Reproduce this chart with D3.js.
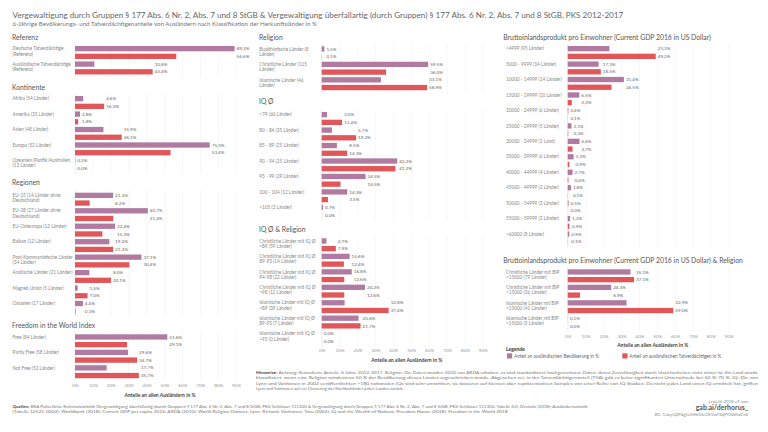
<!DOCTYPE html>
<html><head><meta charset="utf-8">
<script src="https://cdn.jsdelivr.net/npm/d3@7"></script>
<style>
body{margin:0;background:#fff}
svg{display:block}
text{font-family:Lato,"Open Sans",sans-serif}
</style>
</head><body>
<svg id="c" width="768" height="432"></svg>
<script>
// ---------------- DATA ----------------
const seriesNames = ["Anteil an ausländischen Bevölkerung in %", "Anteil an ausländischen Tatverdächtigen in %"];
const tickValues = [0,10,20,30,40,50,60,70,80,90];

const refCategories = ["Deutsche Tatverdächtige (Referenz)", "Ausländische Tatverdächtige (Referenz)"];
const refPop  = [89.2, 10.8];
const refSusp = [56.6, 43.4];

const kontCategories = ["Afrika (54 Länder)", "Amerika (35 Länder)", "Asien (48 Länder)", "Europa (52 Länder)", "Ozeanien/Pazifik/Australien (13 Länder)"];
const kontPop  = [4.6, 2.8, 15.9, 75.3, 0.2];
const kontSusp = [16.3, 1.8, 26.1, 53.4, 0.0];

const regCategories = ["EU-15 (14 Länder ohne Deutschland)", "EU-28 (27 Länder ohne Deutschland)", "EU-Osteuropa (12 Länder)", "Balkan (12 Länder)", "Post-Kommunistische Länder (34 Länder)", "Arabische Länder (21 Länder)", "Magreb Union (5 Länder)", "Ostasien (17 Länder)"];
const regPop  = [21.3, 40.7, 22.4, 19.2, 37.1, 8.0, 1.5, 4.4];
const regSusp = [8.2, 21.4, 15.3, 21.3, 30.4, 20.1, 7.0, 0.3];

const freeCategories = ["Free (84 Länder)", "Partly Free (58 Länder)", "Not Free (52 Länder)"];
const freePop  = [51.6, 29.6, 17.7];
const freeSusp = [29.1, 34.7, 35.7];

const relCategories = ["Buddhistische Länder (8 Länder)", "Christliche Länder (115 Länder)", "Islamische Länder (46 Länder)"];
const relPop  = [1.5, 59.5, 33.1];
const relSusp = [0.1, 36.0, 58.9];

const iqCategories = ["<79 (60 Länder)", "80 - 84 (35 Länder)", "85 - 89 (25 Länder)", "90 - 94 (25 Länder)", "95 - 99 (29 Länder)", "100 - 104 (12 Länder)", ">105 (3 Länder)"];
const iqPop  = [3.0, 5.7, 8.5, 42.2, 24.5, 14.3, 0.7];
const iqSusp = [11.4, 19.2, 14.3, 41.2, 10.5, 3.5, 0.0];

const iqRelCategories = ["Christliche Länder mit IQ Ø <89 (59 Länder)", "Christliche Länder mit IQ Ø 89-93 (14 Länder)", "Christliche Länder mit IQ Ø 94-98 (22 Länder)", "Christliche Länder mit IQ Ø >98 (12 Länder)", "Islamische Länder mit IQ Ø <89 (39 Länder)", "Islamische Länder mit IQ Ø 89-93 (7 Länder)", "Islamische Länder mit IQ Ø >93 (0 Länder)"];
const iqRelPop  = [2.7, 15.6, 16.8, 24.2, 12.8, 20.6, 0.0];
const iqRelSusp = [7.9, 12.4, 12.6, 12.6, 37.4, 21.7, 0.0];

const gdpCategories = ["<4999 (95 Länder)", "5000 - 9999 (34 Länder)", "10000 - 14999 (14 Länder)", "15000 - 19999 (10 Länder)", "20000 - 24999 (6 Länder)", "25000 - 29999 (5 Länder)", "30000 - 34999 (1 Land)", "35000 - 39999 (6 Länder)", "40000 - 44999 (4 Länder)", "45000 - 49999 (2 Länder)", "50000 - 54999 (3 Länder)", "55000 - 59999 (3 Länder)", ">60000 (8 Länder)"];
const gdpPop  = [23.3, 17.3, 31.4, 6.5, 0.4, 2.1, 6.6, 3.3, 2.7, 1.8, 0.5, 1.3, 0.9];
const gdpSusp = [49.2, 18.5, 24.5, 2.3, 0.1, 0.3, 2.7, 0.9, 0.4, 0.1, 0.0, 0.9, 0.1];

const gdpRelCategories = ["Christliche Länder mit BIP <15000 (79 Länder)", "Christliche Länder mit BIP >15000 (36 Länder)", "Islamische Länder mit BIP <15000 (41 Länder)", "Islamische Länder mit BIP >15000 (5 Länder)"];
const gdpRelPop  = [35.1, 24.3, 32.9, 0.1];
const gdpRelSusp = [37.1, 6.9, 59.0, 0.0];

// ---------------- TEXTS ----------------
const titleText = "Vergewaltigung durch Gruppen § 177 Abs. 6 Nr. 2, Abs. 7 und 8 StGB & Vergewaltigung überfallartig (durch Gruppen) § 177 Abs. 6 Nr. 2, Abs. 7 und 8 StGB, PKS 2012-2017";
const subtitleText = "6-Jährige Bevölkerungs- und Tatverdächtigenanteile von Ausländern nach Klassifikation der Herkunftsländer in %";
const axisTitle = "Anteile an allen Ausländern in %";
const hinweise = [
  ["Hinweise: ", "Achtung: Kumulierte Anteile, 6 Jahre 2012-2017. Religion: Die Daten wurden 2010 von ARDA erhoben, es sind standardisiert hochgerechnete Daten, deren Zuverlässigkeit durch Unsicherheiten nicht sicher ist. Ein Land wurde"],
  ["", "klassifiziert, wenn eine Religion mindestens 50 % der Bevölkerung dieses Landes zugeschrieben wurde. Abgesehen sei, in der Tatverdächtigenanteil (TVA) gab es keine signifikanten Unterschiede bei 50 %-70 %. IQ: Die von"],
  ["", "Lynn und Vanhanen in 2002 veröffentlichten ~180 nationalen IQs sind sehr umstritten, sie basieren auf kleinen aber repräsentativen Samples von einer Reihe von IQ Studien. Da nicht jedes Land einen IQ ermittelt hat, griffen"],
  ["", "Lynn und Vanhanen auf ein Clustering der Nachbarländer jeden Landes zurück."]
];
const quellen = [
  ["Quellen: ", "BKA Polizeiliche Kriminalstatistik (Vergewaltigung überfallartig (durch Gruppen) § 177 Abs. 6 Nr. 2, Abs. 7 und 8 StGB, PKS-Schlüssel 111200 & Vergewaltigung durch Gruppen § 177 Abs. 6 Nr. 2, Abs. 7 und 8 StGB, PKS-Schlüssel 111300; Tabelle 62); Destatis (2018): Ausländerstatistik"],
  ["", "(Tabelle 12521-0002); Worldbank (2018): Current GDP per capita 2016; ARDA (2010): World Religion Dataset; Lynn, Richard; Vanhanen, Tatu (2002): IQ and the Wealth of Nations; Freedom House (2018): Freedom in the World 2018"]
];

// ---------------- DRAW ----------------
const svg = d3.select("#c");
const PURPLE = "#b07aa1", RED = "#e15759";
const loc = d3.formatLocale({decimal: ",", thousands: ".", grouping: [3], currency: ["", "€"]});
const fmt = v => loc.format(".1f")(v) + "%";
const FONT = 'Lato, "Open Sans", sans-serif';

const measurer = svg.append("text").attr("x", -1000).attr("y", -1000).style("font-family", FONT);
function measure(str, fs, weight) {
  measurer.attr("font-size", fs).attr("font-weight", weight || 400).text(str);
  return measurer.node().getComputedTextLength();
}
function wrap(str, width, fs) {
  const words = str.split(" ");
  const lines = [];
  let cur = "";
  words.forEach(w => {
    const t = cur ? cur + " " + w : w;
    if (measure(t, fs) > width && cur) { lines.push(cur); cur = w; }
    else cur = t;
  });
  if (cur) lines.push(cur);
  return lines;
}
function fitFont(str, width, weight) {
  const w10 = measure(str, 10, weight);
  return 10 * width / w10;
}

// Title & subtitle
const tfs = fitFont(titleText, 612);
svg.append("text").attr("x", 12.5).attr("y", 15 + tfs * 0.35).attr("font-size", tfs).attr("fill", "#666").text(titleText);
const sfs = fitFont(subtitleText, 305);
svg.append("text").attr("x", 12.5).attr("y", 24 + sfs * 0.35).attr("font-size", sfs).attr("fill", "#777").text(subtitleText);

const LABEL_FS = 4.7, VAL_FS = 4.6, HEAD_FS = 6.8, PITCH = 15.45, LINE = 5.3;

function panel(o) {
  const g = svg.append("g");
  const n = o.categories.length;
  const x = d3.scaleLinear().domain([0, 95]).range([o.x0, o.x0 + 170]);
  const y = d3.scaleBand().domain(o.categories).range([o.rowStart, o.rowStart + n * PITCH]).paddingInner(0).paddingOuter(0);
  const ys = d3.scaleBand().domain(["pop", "susp"]).range([0, 13]).paddingInner(0.312).paddingOuter(0);

  // heading
  g.append("text").attr("x", o.headX).attr("y", o.headY + HEAD_FS * 0.35).attr("font-size", HEAD_FS)
    .attr("fill", "#555").text(o.heading);

  // grid
  const top = o.rowStart - 3, bottom = o.rowStart + (n - 1) * PITCH + 13 + 3;
  g.append("g").selectAll("line").data(tickValues).join("line")
    .attr("x1", d => x(d) + 0.25).attr("x2", d => x(d) + 0.25)
    .attr("y1", top).attr("y2", bottom)
    .attr("stroke", d => d === 0 ? "#d8d8d8" : "#eeeeee").attr("stroke-width", 0.5);

  const rows = o.categories.map((c, i) => ({c, pop: o.pop[i], susp: o.susp[i]}));

  // labels
  const lg = g.append("g").attr("fill", "#888").attr("font-size", LABEL_FS);
  rows.forEach(r => {
    const lines = wrap(r.c, o.wrapW, LABEL_FS);
    const t = lg.append("text").attr("x", o.labelX);
    lines.forEach((l, k) => t.append("tspan").attr("x", o.labelX)
      .attr("y", y(r.c) + 2.7 + k * LINE + LABEL_FS * 0.35).text(l));
  });

  // bars
  g.append("g").selectAll("rect.p").data(rows).join("rect")
    .attr("x", x(0)).attr("y", d => y(d.c) + ys("pop"))
    .attr("width", d => Math.max(0, x(d.pop) - x(0))).attr("height", ys.bandwidth()).attr("fill", PURPLE);
  g.append("g").selectAll("rect.s").data(rows).join("rect")
    .attr("x", x(0)).attr("y", d => y(d.c) + ys("susp"))
    .attr("width", d => Math.max(0, x(d.susp) - x(0))).attr("height", ys.bandwidth()).attr("fill", RED);

  // values
  const vg = g.append("g").attr("fill", "#666").attr("font-size", VAL_FS);
  rows.forEach(r => {
    const lx = x(Math.max(r.pop, r.susp)) + 2;
    vg.append("text").attr("x", lx).attr("y", y(r.c) + ys("pop") + ys.bandwidth() / 2 + VAL_FS * 0.35).text(fmt(r.pop));
    vg.append("text").attr("x", lx).attr("y", y(r.c) + ys("susp") + ys.bandwidth() / 2 + VAL_FS * 0.35).text(fmt(r.susp));
  });

  // axis
  if (o.axisY) {
    const ax = g.append("g").attr("transform", `translate(0,${o.axisY - 3})`)
      .call(d3.axisBottom(x).tickValues(tickValues).tickFormat(d => d + "%").tickSize(0).tickPadding(1));
    ax.select(".domain").remove();
    ax.selectAll("text").attr("font-size", 4.6).attr("fill", "#999").style("font-family", FONT);
    g.append("text").attr("x", (x(0) + x(95)) / 2).attr("y", o.axisTitleY + 5 * 0.35)
      .attr("text-anchor", "middle").attr("font-size", 5).attr("font-weight", 700).attr("fill", "#444")
      .text(axisTitle);
  }
}

// Left column
panel({heading: "Referenz", headX: 12, headY: 38, x0: 75, labelX: 12.5, wrapW: 62, rowStart: 46,
  categories: refCategories, pop: refPop, susp: refSusp});
panel({heading: "Kontinente", headX: 12, headY: 88, x0: 75, labelX: 12.5, wrapW: 62, rowStart: 96,
  categories: kontCategories, pop: kontPop, susp: kontSusp});
panel({heading: "Regionen", headX: 12, headY: 183, x0: 75, labelX: 12.5, wrapW: 62, rowStart: 192.7,
  categories: regCategories, pop: regPop, susp: regSusp});
panel({heading: "Freedom in the World Index", headX: 12, headY: 325.7, x0: 75, labelX: 12.5, wrapW: 62, rowStart: 334.3,
  categories: freeCategories, pop: freePop, susp: freeSusp, axisY: 386, axisTitleY: 395});

// Middle column
panel({heading: "Religion", headX: 259, headY: 38, x0: 321.7, labelX: 259.3, wrapW: 57, rowStart: 46.3,
  categories: relCategories, pop: relPop, susp: relSusp});
panel({heading: "IQ Ø", headX: 259, headY: 102, x0: 321.7, labelX: 259.3, wrapW: 57, rowStart: 112,
  categories: iqCategories, pop: iqPop, susp: iqSusp});
panel({heading: "IQ Ø & Religion", headX: 259, headY: 230, x0: 321.7, labelX: 259.3, wrapW: 57, rowStart: 238.3,
  categories: iqRelCategories, pop: iqRelPop, susp: iqRelSusp, axisY: 351, axisTitleY: 360});

// Right column
panel({heading: "Bruttoinlandsprodukt pro Einwohner (Current GDP 2016 in US Dollar)", headX: 503.3, headY: 37.3, x0: 567.7, labelX: 506, wrapW: 60, rowStart: 46,
  categories: gdpCategories, pop: gdpPop, susp: gdpSusp});
panel({heading: "Bruttoinlandsprodukt pro Einwohner (Current GDP 2016 in US Dollar) & Religion", headX: 503.3, headY: 260.7, x0: 567.7, labelX: 506, wrapW: 60, rowStart: 269.3,
  categories: gdpRelCategories, pop: gdpRelPop, susp: gdpRelSusp, axisY: 336.7, axisTitleY: 345});

// Legend
const leg = svg.append("g");
leg.append("text").attr("x", 506).attr("y", 349.5 + 5 * 0.35).attr("font-size", 5).attr("font-weight", 700).attr("fill", "#333").text("Legende");
const legX = [507, 622.3];
[PURPLE, RED].forEach((c, i) => {
  leg.append("rect").attr("x", legX[i]).attr("y", 353.3).attr("width", 5.2).attr("height", 5.2).attr("fill", c);
  leg.append("text").attr("x", legX[i] + 7).attr("y", 356 + 4.7 * 0.35).attr("font-size", 4.7).attr("fill", "#666").text(seriesNames[i]);
});

// Notes
function paraLine(x, yc, parts, width, fs) {
  const t = svg.append("text").attr("x", x).attr("y", yc + fs * 0.35).attr("font-size", fs).attr("fill", "#777");
  if (parts[0]) t.append("tspan").attr("font-weight", 700).attr("fill", "#444").text(parts[0]);
  t.append("tspan").text(parts[1]);
  if (width) t.attr("textLength", width).attr("lengthAdjust", "spacingAndGlyphs");
}
const hy = [372, 377.5, 383, 388.5];
hinweise.forEach((p, i) => paraLine(256, hy[i], p, i < 3 ? 502 : null, 4.3));
paraLine(12.5, 406, quellen[0], 575, 4.3);
paraLine(12.5, 411.5, quellen[1], 495, 4.3);

svg.append("text").attr("x", 748).attr("y", 401 + 4.5 * 0.35).attr("text-anchor", "end").attr("font-size", 4.5).attr("fill", "#888").text("erstellt 2018 v1 von");
svg.append("text").attr("x", 748).attr("y", 407.5 + 7 * 0.35).attr("text-anchor", "end").attr("font-size", 7).attr("font-weight", 700).attr("fill", "#555").text("gab.ai/derhorus_");
svg.append("text").attr("x", 748).attr("y", 414.5 + 4.3 * 0.35).attr("text-anchor", "end").attr("font-size", 4.3).attr("fill", "#888").text("BC: 1JwyQ2P4g1z5iHtSSeCKVwTSqPYJ6bTwCnk");

measurer.remove();
</script>
</body></html>
